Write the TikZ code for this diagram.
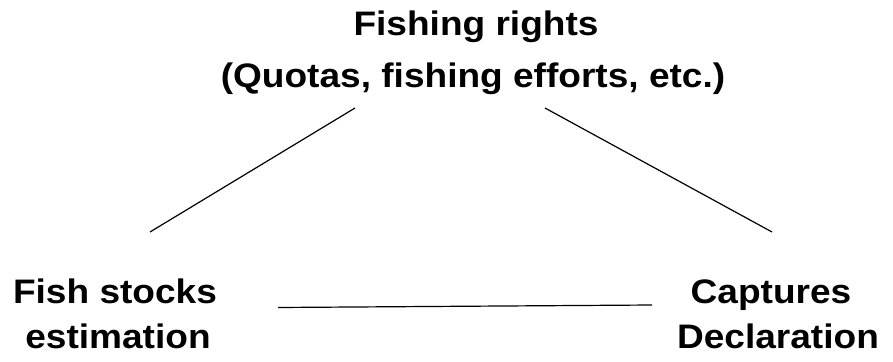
\documentclass[tikz,border=0pt]{standalone}
\usepackage{fontspec}
\setmainfont{Liberation Sans}
\newfontfamily\labelfont{Liberation Sans}[FakeStretch=1.09]
\begin{document}
\begin{tikzpicture}[x=1pt,y=-1pt,
  label/.style={font=\labelfont\bfseries\fontsize{34}{40}\selectfont, anchor=base, inner sep=0pt},
  link/.style={line width=1.2pt, black}]
  \useasboundingbox (0,0) rectangle (893,361);
  % labels
  \node[label] (rights)  at (476,36) {Fishing rights};
  \node[label] (quotas)  at (473,87) {(Quotas, fishing efforts, etc.)};
  \node[label] (fish)    at (115,303) {Fish stocks};
  \node[label] (estim)   at (118,348) {estimation};
  \node[label] (capt)    at (771,303) {Captures};
  \node[label] (decl)    at (778,348) {Declaration};
  % free ends of the links
  \coordinate (tl) at (355,108);
  \coordinate (bl) at (150,232);
  \coordinate (tr) at (545,108);
  \coordinate (br) at (772,232);
  \coordinate (ml) at (278,307.5);
  \coordinate (mr) at (652,305);
  \draw[link] (tl) -- (bl);
  \draw[link] (tr) -- (br);
  \draw[link] (ml) -- (mr);
\end{tikzpicture}
\end{document}
